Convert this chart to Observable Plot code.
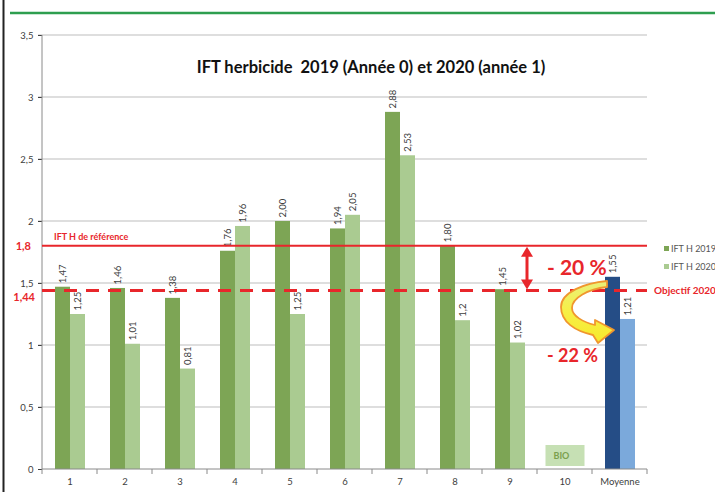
<!DOCTYPE html>
<html><head><meta charset="utf-8">
<script src="https://cdn.jsdelivr.net/npm/d3@7"></script>
<script src="https://cdn.jsdelivr.net/npm/@observablehq/plot@0.6"></script>
<style>
html,body{margin:0;padding:0;background:#fff;}
#chart svg{display:block;}
</style></head>
<body><div id="chart"></div>
<script>
const categories = ["1","2","3","4","5","6","7","8","9","10","Moyenne"];
const series = ["IFT H 2019","IFT H 2020"];
const values2019 = [1.47,1.46,1.38,1.76,2.00,1.94,2.88,1.80,1.45,null,1.55];
const values2020 = [1.25,1.01,0.81,1.96,1.25,2.05,2.53,1.2,1.02,null,1.21];
const labels2019 = ["1,47","1,46","1,38","1,76","2,00","1,94","2,88","1,80","1,45","","1,55"];
const labels2020 = ["1,25","1,01","0,81","1,96","1,25","2,05","2,53","1,2","1,02","","1,21"];
const yTicks = [0,0.5,1,1.5,2,2.5,3,3.5];
const yTickLabels = ["0","0,5","1","1,5","2","2,5","3","3,5"];
const refValue = 1.8, objValue = 1.44;
const colors2019 = {green:"#7da555", blue:"#254d86"};
const colors2020 = {green:"#aacb91", blue:"#7ba9db"};

const rows = [];
categories.forEach((c,i)=>{
  const grp = c === "Moyenne" ? "blue" : "green";
  if (values2019[i] != null) rows.push({cat:c, series:series[0], value:values2019[i], label:labels2019[i], color:colors2019[grp]});
  if (values2020[i] != null) rows.push({cat:c, series:series[1], value:values2020[i], label:labels2020[i], color:colors2020[grp]});
});

const fnt = "Lato, 'Open Sans', sans-serif";
const plot = Plot.plot({
  width: 715, height: 492,
  marginLeft: 37, marginRight: 63, marginTop: 35, marginBottom: 23,
  style: {fontFamily: fnt, fontSize: "9.5px", color: "#404040", background: "transparent"},
  fx: {domain: categories, padding: 0, label: null},
  x: {domain: series, axis: null, paddingInner: 0, paddingOuter: 0.8},
  y: {domain: [0, 3.5], label: null},
  color: {type: "identity"},
  marks: [
    Plot.axisFx({anchor: "bottom", tickSize: 0, tickPadding: 9, label: null}),
    Plot.axisY({ticks: yTicks, tickFormat: d => yTickLabels[yTicks.indexOf(d)], tickSize: 4, tickPadding: 5, label: null, facetAnchor: "left"}),
    Plot.barY(rows, {fx: "cat", x: "series", y: "value", fill: "color"}),
    Plot.text(rows, {fx: "cat", x: "series", y: "value", text: "label", rotate: -90, textAnchor: "start", dy: -4, fill: "#404040", fontSize: 9.5})
  ]
});
document.getElementById("chart").appendChild(plot);

const svg = d3.select(plot);
const FX = plot.scale("fx"), Y = plot.scale("y");
const bw = FX.bandwidth;
const x0 = FX.apply(categories[0]);
const x1 = FX.apply(categories[categories.length-1]) + bw;
const y0 = Y.apply(0), yTop = Y.apply(3.5);

// gridlines behind bars
const grid = svg.insert("g", "g");
yTicks.slice(1).forEach(t => {
  grid.append("line").attr("x1", x0-4).attr("x2", x1).attr("y1", Y.apply(t)).attr("y2", Y.apply(t))
    .attr("stroke", "#bdbdbd").attr("stroke-width", 1);
});

const ann = svg.append("g").attr("text-anchor", "start").attr("font-family", fnt);
// frame decorations
ann.append("line").attr("x1", 3.5).attr("x2", 3.5).attr("y1", 0).attr("y2", 492).attr("stroke", "#222").attr("stroke-width", 2);
ann.append("line").attr("x1", 10).attr("x2", 715).attr("y1", 13).attr("y2", 13).attr("stroke", "#2e9e4f").attr("stroke-width", 2.5);
// axes lines
ann.append("line").attr("x1", x0).attr("x2", x0).attr("y1", yTop).attr("y2", y0).attr("stroke", "#8a8a8a");
ann.append("line").attr("x1", x0).attr("x2", x1).attr("y1", y0).attr("y2", y0).attr("stroke", "#8a8a8a");
categories.forEach((c,i) => {
  const xx = FX.apply(c);
  ann.append("line").attr("x1", xx).attr("x2", xx).attr("y1", y0).attr("y2", y0+5).attr("stroke", "#8a8a8a");
});
ann.append("line").attr("x1", x1).attr("x2", x1).attr("y1", y0).attr("y2", y0+5).attr("stroke", "#8a8a8a");

// reference lines
const yr = Y.apply(refValue), yo = Y.apply(objValue);
const red = "#e8262b";
ann.append("line").attr("x1", x0).attr("x2", x1).attr("y1", yr).attr("y2", yr).attr("stroke", red).attr("stroke-width", 2);
ann.append("line").attr("x1", x0).attr("x2", x1).attr("y1", yo).attr("y2", yo).attr("stroke", red).attr("stroke-width", 3).attr("stroke-dasharray", "13,9");
ann.append("text").attr("x", 31).attr("y", yr+4).attr("text-anchor", "end").attr("fill", red).attr("font-weight", "bold").attr("font-size", 11).text("1,8");
ann.append("text").attr("x", 35).attr("y", yo+11).attr("text-anchor", "end").attr("fill", red).attr("font-weight", "bold").attr("font-size", 11).text("1,44");
ann.append("text").attr("x", 54).attr("y", yr-6).attr("fill", red).attr("font-weight", "bold").attr("font-size", 9).text("IFT H de référence");
ann.append("text").attr("x", 654).attr("y", yo+4).attr("fill", red).attr("font-weight", "bold").attr("font-size", 10).text("Objectif 2020");

// title
ann.append("text").attr("x", 371).attr("y", 73).attr("text-anchor", "middle").attr("fill", "#111").attr("font-weight", "bold").attr("font-size", 16.5).text("IFT herbicide  2019 (Année 0) et 2020 (année 1)");

// legend
[[series[0], colors2019.green, 249],[series[1], colors2020.green, 267]].forEach(([t,c,yy]) => {
  ann.append("rect").attr("x", 664).attr("y", yy-3).attr("width", 5).attr("height", 5).attr("fill", c);
  ann.append("text").attr("x", 671).attr("y", yy+3).attr("fill", "#555").attr("font-size", 9).text(t);
});

// double arrow between reference and objective
const xa = FX.apply("10") - 10;
ann.append("line").attr("x1", xa).attr("x2", xa).attr("y1", yr+8).attr("y2", yo-8).attr("stroke", red).attr("stroke-width", 3);
ann.append("path").attr("d", `M${xa},${yr+1} L${xa-6},${yr+11} L${xa+6},${yr+11} Z`).attr("fill", red);
ann.append("path").attr("d", `M${xa},${yo-1} L${xa-6},${yo-11} L${xa+6},${yo-11} Z`).attr("fill", red);
ann.append("text").attr("x", 547).attr("y", 275).attr("fill", red).attr("font-weight", "bold").attr("font-size", 21).text("- 20 %");
ann.append("text").attr("x", 547).attr("y", 362).attr("fill", red).attr("font-weight", "bold").attr("font-size", 18).text("- 22 %");

// curved arrow
const defs = svg.append("defs");
const lg = defs.append("linearGradient").attr("id", "yel").attr("x1", "0").attr("y1", "0").attr("x2", "0").attr("y2", "1");
lg.append("stop").attr("offset", "0").attr("stop-color", "#e9f07a");
lg.append("stop").attr("offset", "0.5").attr("stop-color", "#f7ef45");
lg.append("stop").attr("offset", "1").attr("stop-color", "#f6e92c");
ann.append("path")
  .attr("d", "M607,281 C585,283 561,292 561,307 C561,322 575,331 593,335 L598,343 L614,330 L595,320 L595,325 C583,322 572,316 572,308 C572,298 588,289 607,287 Z")
  .attr("fill", "url(#yel)").attr("stroke", "#f0962e").attr("stroke-width", 1.8).attr("stroke-linejoin", "round");

// BIO box
const cx10 = FX.apply("10") + bw/2;
ann.append("rect").attr("x", cx10-19).attr("y", 445).attr("width", 39).attr("height", 21).attr("fill", "#c6e0b4");
ann.append("text").attr("x", cx10-11).attr("y", 459).attr("fill", "#7aa04e").attr("font-weight", "bold").attr("font-size", 9).text("BIO");
</script></body></html>
